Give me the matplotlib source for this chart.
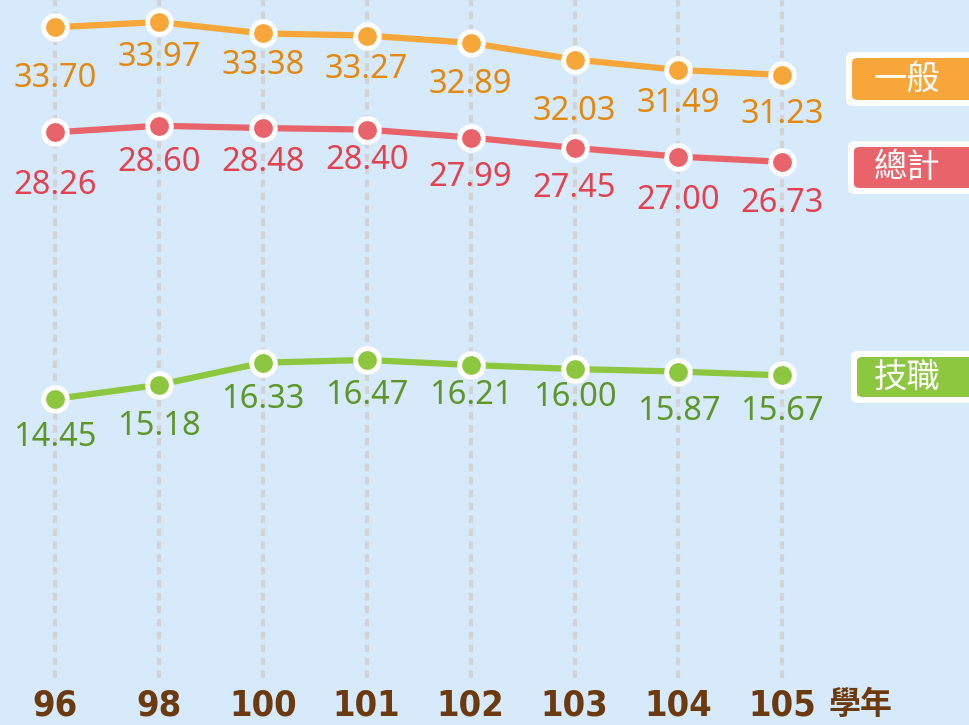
import matplotlib.pyplot as plt
from matplotlib.patches import FancyBboxPatch

years = ['96', '98', '100', '101', '102', '103', '104', '105']
general = [33.70, 33.97, 33.38, 33.27, 32.89, 32.03, 31.49, 31.23]
total = [28.26, 28.60, 28.48, 28.40, 27.99, 27.45, 27.00, 26.73]
vocational = [14.45, 15.18, 16.33, 16.47, 16.21, 16.00, 15.87, 15.67]
names = ['一般', '總計', '技職']

# label offsets below each point (pixels)
off_general = [51, 35, 32, 34, 42, 52, 34, 40]
off_total = [53, 37, 34, 31, 40, 41, 44, 42]
off_vocational = [39, 42, 37, 36, 31, 28, 40, 36]

W, H = 970, 725
fig = plt.figure(figsize=(W / 100, H / 100), dpi=100)
fig.patch.set_facecolor('#d7eafb')
ax = fig.add_axes([0, 0, 1, 1])
ax.set_facecolor('none')
ax.axis('off')

px_per_unit = 19.31
ymax = 678 / px_per_unit
ymin = -(H - 678) / px_per_unit
ax.set_ylim(ymin, ymax)
step = 103.9
ax.set_xlim(-55 / step, (W - 55) / step)

x = list(range(len(years)))
ax.vlines(x, 0, ymax, colors='#d3d3d3', linewidth=3,
          linestyles=(0, (1.8, 1.3)), zorder=1)

series = [
    (general, off_general, '#f7a739', '#e3890f'),
    (total, off_total, '#e9636b', '#e2434f'),
    (vocational, off_vocational, '#8dc63f', '#5e962a'),
]
for vals, offs, c, tc in series:
    ax.plot(x, vals, color=c, linewidth=4.5, zorder=2, solid_capstyle='round')
    ax.plot(x, vals, 'o', color=c, markersize=17, markeredgecolor='white',
            markeredgewidth=3.5, zorder=3)
    for xi, v, o in zip(x, vals, offs):
        ax.annotate(f'{v:.2f}', (xi, v), xytext=(0, -o * 0.72),
                    textcoords='offset points', ha='center', va='center',
                    fontsize=23.5, color=tc, family='Noto Sans')

# year labels along the bottom
for xi, y in zip(x, years):
    ax.text(xi, (678 - 705) / px_per_unit, y, ha='center', va='center',
            fontsize=26, fontweight='bold', fontstretch='condensed',
            color='#6b3b0f', family='DejaVu Sans')
ax.text(x[-1] + 0.75, (678 - 705) / px_per_unit, '學年', ha='center', va='center',
        fontsize=23, fontweight='bold', color='#6b3b0f', family='Noto Sans CJK TC')

# series name tags on the right
tags = [(names[0], '#f7a739', 852, 58, 100), (names[1], '#e9636b', 854, 147, 188),
        (names[2], '#8dc63f', 857, 357, 397)]
for name, c, x0, y0, y1 in tags:
    pad = 6
    outer = FancyBboxPatch(((x0 - pad) / W, 1 - (y1 + pad) / H),
                           (W + 20 - x0) / W, (y1 - y0 + 2 * pad) / H,
                           boxstyle='round,pad=0,rounding_size=0.008',
                           transform=fig.transFigure, facecolor='white',
                           edgecolor='none', zorder=4)
    inner = FancyBboxPatch((x0 / W, 1 - y1 / H), (W + 20 - x0) / W, (y1 - y0) / H,
                           boxstyle='round,pad=0,rounding_size=0.006',
                           transform=fig.transFigure, facecolor=c,
                           edgecolor='none', zorder=5)
    fig.patches.extend([outer, inner])
    fig.text(907 / W, 1 - (y0 + y1) / 2 / H, name, ha='center', va='center',
             fontsize=24, fontweight='medium', color='white',
             family='Noto Sans CJK TC', zorder=6)

fig.savefig('out.png', dpi=100, facecolor=fig.get_facecolor())
